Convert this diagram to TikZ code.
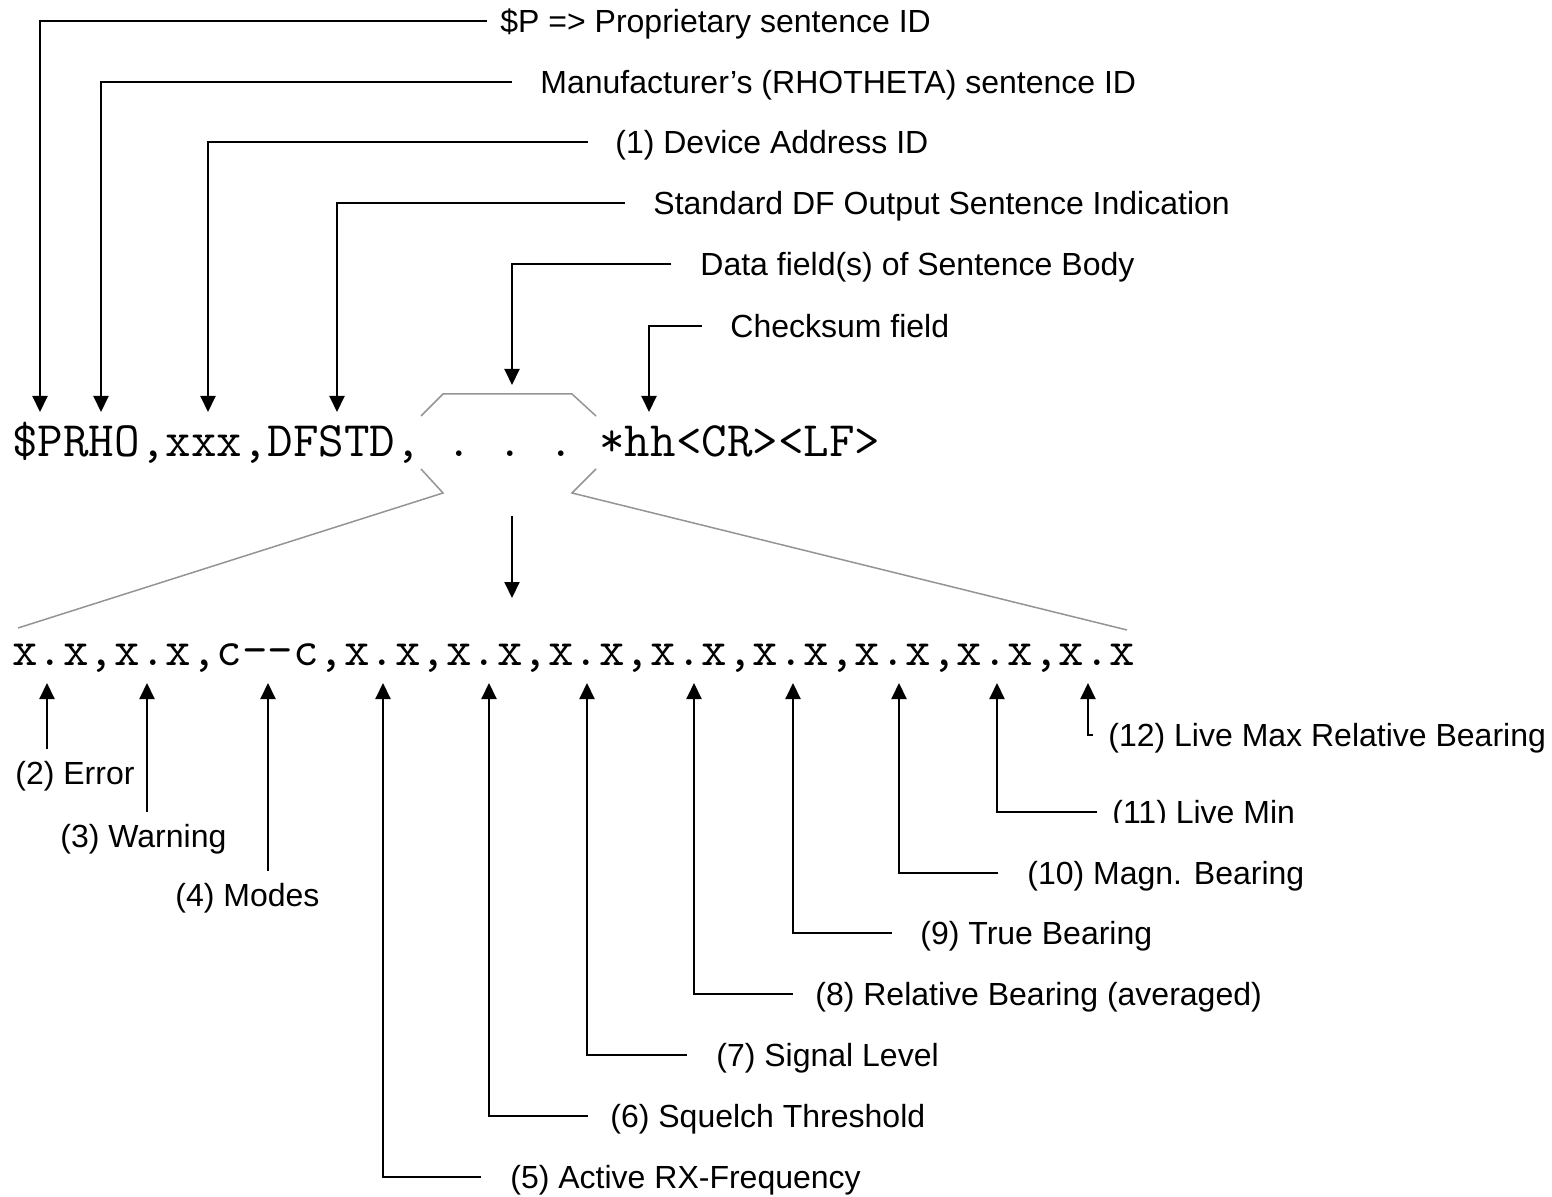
\documentclass[tikz,border=0pt]{standalone}
\usepackage{fontspec}
\setmainfont{Liberation Sans}
\setmonofont{Latin Modern Mono}
\usetikzlibrary{arrows.meta}

\begin{document}
\begin{tikzpicture}[x=0.5pt, y=-0.5pt,
  lbl/.style={font=\fontsize{16}{19}\selectfont, inner sep=0pt, text height=11.46pt, text depth=0pt},
  code/.style={font=\ttfamily\fontsize{24.78}{28}\selectfont, inner sep=0pt, anchor=base west},
  ptr/.style={line width=1pt, -{Triangle[length=8pt,width=7.5pt]}},
  brk/.style={line width=0.75pt, black!42}]
  \useasboundingbox (0,0) rectangle (1552,1197);

  \node[code] (sentence) at (12,457) {\$PRHO,xxx,DFSTD, . . . *hh<CR><LF>};
  \node[code] (fields) at (12,665) {x.x,x.x,c--c,x.x,x.x,x.x,x.x,x.x,x.x,x.x,x.x};

  % sentence parts
  \foreach \n/\x/\t/\ly/\lx/\gap/\txt in {
      1/40/412/21/500/6.5pt/{\$P => Proprietary sentence ID},
      2/101/412/82/540/14pt/{Manufacturer’s (RHOTHETA) sentence ID},
      3/208/412/142/615/13.5pt/{(1) Device Address ID},
      4/337/412/203/653/14pt/{Standard DF Output Sentence Indication},
      5/512/385/264/700/14.5pt/{Data field(s) of Sentence Body},
      6/649/412/326/730/14pt/{Checksum field}} {
    \coordinate (top\n) at (\x,\t);
    \node[lbl, anchor=west] (hdr\n) at (\lx,\ly) {\txt};
    \draw[ptr, shorten <=\gap] (hdr\n.west) -| (top\n);
  }

  % body brackets
  \draw[brk] (421,416) -- (443,394) -- (572,394) -- (596,416);
  \draw[brk] (421,469) -- (443,493) -- (18,628);
  \draw[brk] (596,469) -- (572,493) -- (1127,630);
  \coordinate (zoomfrom) at (512,516);
  \coordinate (zoomto) at (512,598);
  \draw[ptr] (zoomfrom) -- (zoomto);

  % first three fields, label below
  \foreach \n/\x/\ly/\lx/\txt in {
      2/47/773/15/{(2) Error},
      3/147/836/60/{(3) Warning},
      4/268/895/175/{(4) Modes}} {
    \coordinate (bot\n) at (\x,683);
    \node[lbl, anchor=west] (fld\n) at (\lx,\ly) {\txt};
    \draw[ptr, shorten <=6pt] (fld\n.north -| bot\n) -- (bot\n);
  }

  % remaining fields, label to the right
  \foreach \n/\x/\ly/\lx/\gap/\txt in {
      5/383/1177/510/14.5pt/{(5) Active RX-Frequency},
      6/489/1116/610/11pt/{(6) Squelch Threshold},
      7/587/1055/716/14.5pt/{(7) Signal Level},
      8/694/994/815/11pt/{(8) Relative Bearing (averaged)},
      9/793/933/920/14pt/{(9) True Bearing},
      10/899/873/1027/14.5pt/{(10) Magn. Bearing},
      12/1088/735/1108/7.5pt/{(12) Live Max Relative Bearing}} {
    \coordinate (bot\n) at (\x,683);
    \node[lbl, anchor=west] (fld\n) at (\lx,\ly) {\txt};
    \draw[ptr, shorten <=\gap] (fld\n.west) -| (bot\n);
  }
  \begin{scope}
    \clip (900,700) rectangle (1552,822);
    \node[lbl, anchor=west] (fld11) at (1112,812) {(11) Live Min};
  \end{scope}
  \coordinate (bot11) at (997,683);
  \draw[ptr, shorten <=7.5pt] (fld11.west) -| (bot11);
\end{tikzpicture}
\end{document}
